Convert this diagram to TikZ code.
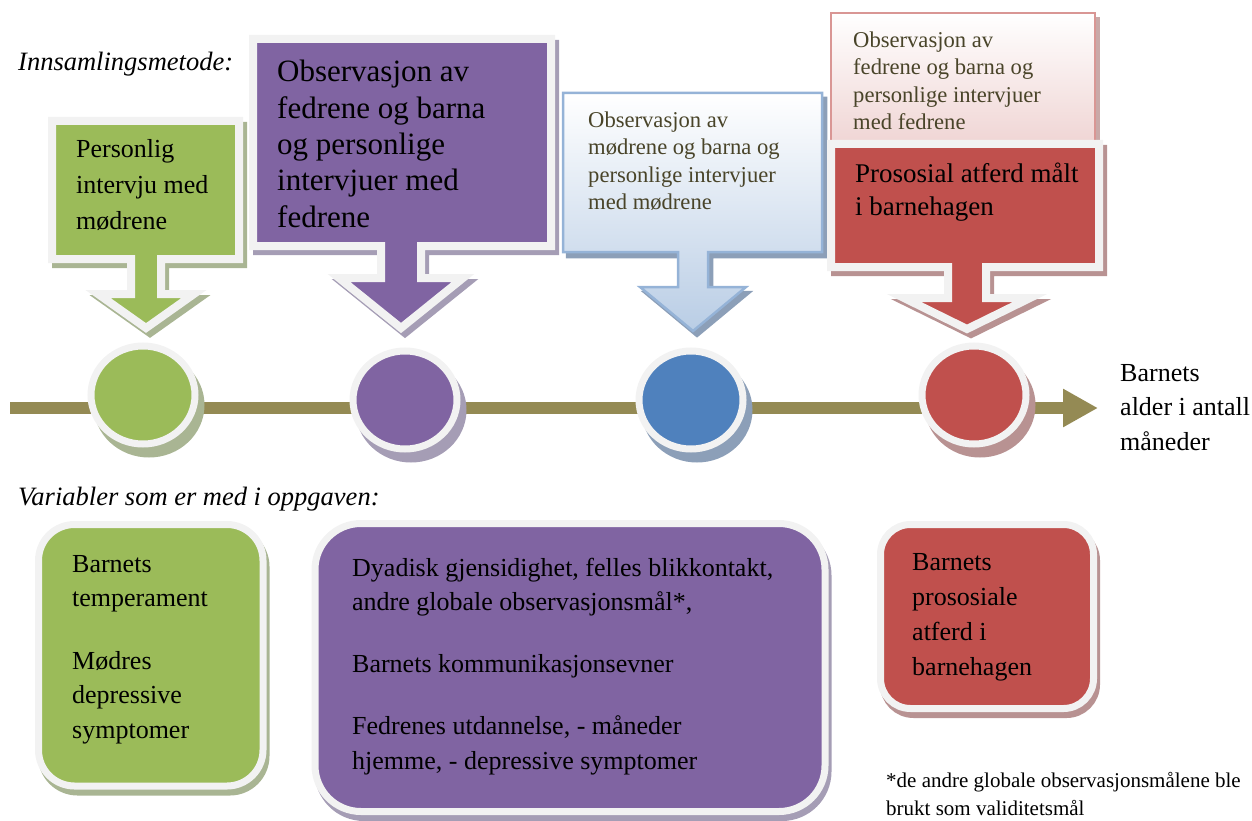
\documentclass[tikz,border=0pt]{standalone}
\usepackage{fontspec}
\setmainfont{Liberation Serif}
\usetikzlibrary{arrows.meta}

\definecolor{ogreen}{HTML}{9BBB59}
\definecolor{opurple}{HTML}{8064A2}
\definecolor{oblue}{HTML}{4F81BD}
\definecolor{ored}{HTML}{C0504D}
\definecolor{olive}{HTML}{948A54}
\definecolor{rimgrey}{HTML}{F2F2F2}
\definecolor{greenshadow}{HTML}{A9B593}
\definecolor{purpleshadow}{HTML}{A59DB5}
\definecolor{redshadow}{HTML}{B89292}
\definecolor{blueshadow}{HTML}{8C9FB8}
\definecolor{pinkshadow}{HTML}{C9A9A8}
\definecolor{bluerim}{HTML}{95B3D7}
\definecolor{bluepale}{HTML}{B9CDE5}
\definecolor{pinkrim}{HTML}{D99694}
\definecolor{pinkpale}{HTML}{EFD3D2}
\definecolor{paletext}{HTML}{494429}

% down arrow callout: left, top, right, bottom, centre x, stem half, head half, head top, tip
\newcommand{\callout}[9]{(#1,#2) -- (#3,#2) -- (#3,#4) -- ({#5+#6},#4) -- ({#5+#6},#8)
  -- ({#5+#7},#8) -- (#5,#9) -- ({#5-#7},#8) -- ({#5-#6},#8) -- ({#5-#6},#4) -- (#1,#4) -- cycle}

\begin{document}
\begin{tikzpicture}[
  x=1pt, y=-1pt,
  every node/.style={inner sep=0pt, anchor=base west, align=left},
  rim/.style={draw=rimgrey, line width=8pt, line join=miter},
  ghost/.style={fill=#1, draw=#1, line width=8pt, line join=miter, shift={(4,5)}},
  thinrim/.style={line width=2.5pt, line join=miter},
  timeline/.style={draw=olive, line width=12pt, -{Triangle[length=35pt,width=36pt]}},
  dot/.style={rim, line width=7pt},
  dotghost/.style={ghost=#1, line width=7pt, shift={(2,5)}},
  headfont/.style={font=\itshape\fontsize{26.5}{32}\selectfont},
  callfont/.style={font=\fontsize{26}{35.5}\selectfont},
  palefont/.style={font=\fontsize{22.6}{27.6}\selectfont, text=paletext},
  bodyfont/.style={font=\fontsize{26}{34.5}\selectfont}
]
\useasboundingbox (0,0) rectangle (1252,821);

% headings (nodes sit on the baseline of their last line)
\node[headfont] (method) at (18,71) {Innsamlingsmetode:};
\node[headfont] (vars) at (18,505) {Variabler som er med i oppgaven:};

% callouts
\fill[ghost=greenshadow] \callout{52}{121}{239}{259}{146}{15}{48}{294}{328};
\draw[rim, fill=ogreen] \callout{52}{121}{239}{259}{146}{15}{48}{294}{328};
\node[callfont] (tgreen) at (76,229) {Personlig\\intervju med\\mødrene};

\fill[ghost=purpleshadow] \callout{253}{39}{551}{246}{401}{20}{62}{278}{328};
\draw[rim, fill=opurple] \callout{253}{39}{551}{246}{401}{20}{62}{278}{328};
\node[font=\fontsize{31}{36.3}\selectfont] (tpurple) at (277,227)
  {Observasjon av\\fedrene og barna\\og personlige\\intervjuer med\\fedrene};

\fill[ghost=blueshadow, line width=2.5pt] \callout{563}{93}{822}{252}{693}{15}{53}{287}{331};
\draw[thinrim, draw=bluerim, top color=white, bottom color=bluepale]
  \callout{563}{93}{822}{252}{693}{15}{53}{287}{331};
\node[palefont] (tblue) at (588,210)
  {Observasjon av\\mødrene og barna og\\personlige intervjuer\\med mødrene};

\fill[ghost=pinkshadow, line width=2.5pt] (831,13) rectangle (1095,150);
\draw[thinrim, draw=pinkrim, top color=white, bottom color=pinkpale] (831,13) rectangle (1095,150);
\node[palefont] (tpink) at (853,130)
  {Observasjon av\\fedrene og barna og\\personlige intervjuer\\med fedrene};

\fill[ghost=redshadow] \callout{831}{144}{1099}{267}{967}{19}{63}{298}{329};
\draw[rim, fill=ored] \callout{831}{144}{1099}{267}{967}{19}{63}{298}{329};
\node[font=\fontsize{27}{33}\selectfont] (tred) at (855,215) {Prososial atferd målt\\i barnehagen};

% time line
\coordinate (tstart) at (10,408);
\coordinate (tend) at (1098,408);
\draw[timeline] (tstart) -- (tend);
\node[bodyfont] (age) at (1120,450) {Barnets\\alder i antall\\måneder};

\fill[dotghost=greenshadow] (143,395) ellipse [x radius=52, y radius=49];
\draw[dot, fill=ogreen] (143,395) ellipse [x radius=52, y radius=49];
\fill[dotghost=purpleshadow] (405,400) ellipse [x radius=52, y radius=49];
\draw[dot, fill=opurple] (405,400) ellipse [x radius=52, y radius=49];
\fill[dotghost=blueshadow] (691,400) ellipse [x radius=52, y radius=49];
\draw[dot, fill=oblue] (691,400) ellipse [x radius=52, y radius=49];
\fill[dotghost=redshadow] (974,395) ellipse [x radius=52, y radius=49];
\draw[dot, fill=ored] (974,395) ellipse [x radius=52, y radius=49];

% variable boxes
\fill[ghost=greenshadow, line width=7pt, shift={(-1,1)}, rounded corners=36pt] (38.5,524.5) rectangle (263,786);
\draw[dot, fill=ogreen, rounded corners=36pt] (38.5,524.5) rectangle (263,786);
\node[bodyfont] (vgreen) at (72,738) {Barnets\\temperament\\[28pt]Mødres\\depressive\\symptomer};

\fill[ghost=purpleshadow, line width=7pt, shift={(-1,1)}, rounded corners=46pt] (315,523.5) rectangle (825,811.5);
\draw[dot, fill=opurple, rounded corners=46pt] (315,523.5) rectangle (825,811.5);
\node[bodyfont] (vpurple) at (352,769)
  {Dyadisk gjensidighet, felles blikkontakt,\\andre globale observasjonsmål*,\\[27.5pt]Barnets kommunikasjonsevner\\[27.5pt]Fedrenes utdannelse, - måneder\\hjemme, - depressive symptomer};

\fill[ghost=redshadow, line width=7pt, shift={(-1,1)}, rounded corners=30pt] (880.5,524.5) rectangle (1093.5,708.5);
\draw[dot, fill=ored, rounded corners=30pt] (880.5,524.5) rectangle (1093.5,708.5);
\node[font=\fontsize{26}{35}\selectfont] (vred) at (912,675) {Barnets\\prososiale\\atferd i\\barnehagen};

\node[font=\fontsize{21}{28}\selectfont] (foot) at (886,815)
  {*de andre globale observasjonsmålene ble\\brukt som validitetsmål};
\end{tikzpicture}
\end{document}
